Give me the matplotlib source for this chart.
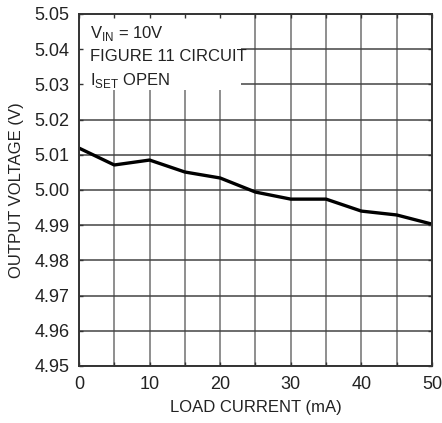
import matplotlib
matplotlib.use("Agg")
import matplotlib.pyplot as plt

plt.rcParams["font.family"] = ["Liberation Sans", "DejaVu Sans"]

load_ma = [0, 5, 10, 15, 20, 25, 30, 35, 40, 45, 50]
vout = [5.0119, 5.0071, 5.0085, 5.0051, 5.0034, 4.9994, 4.9974, 4.9974, 4.9940, 4.9929, 4.9903]

xticks = [0, 10, 20, 30, 40, 50]
yticks = [4.95, 4.96, 4.97, 4.98, 4.99, 5.00, 5.01, 5.02, 5.03, 5.04, 5.05]

pos = [0.1787, 0.1348, 0.7986, 0.8322]
fig = plt.figure(figsize=(4.42, 4.23), dpi=100)
ax = fig.add_axes(pos)

ax.set_xlim(0, 50)
ax.set_ylim(4.95, 5.05)
ax.set_xticks(xticks)
ax.set_xticks(range(0, 51, 5), minor=True)
ax.set_yticks(yticks)
ax.set_yticklabels(["%.2f" % v for v in yticks])

ax.grid(True, which="major", axis="y", color="#444444", lw=1.1, zorder=1)
ax.grid(True, which="both", axis="x", color="#707070", lw=1.1, zorder=1)

ax.tick_params(which="both", length=0, labelsize=13, labelcolor="#222222", pad=7)
for s in ax.spines.values():
    s.set_visible(False)

ax.plot(load_ma, vout, color="black", lw=2.4, solid_joinstyle="round", zorder=4)

# white label block in the top-left corner
ax.axvspan(0, 23, ymin=0.785, ymax=1.0, color="white", lw=0, zorder=2)
txt = dict(fontsize=12, color="#222222", zorder=3)
ax.text(1.5, 5.0445, r"V$_{\mathregular{IN}}$ = 10V", va="center", **txt)
ax.text(1.5, 5.0378, "FIGURE 11 CIRCUIT", va="center", **txt)
ax.text(1.5, 5.0310, r"I$_{\mathregular{SET}}$ OPEN", va="center", **txt)

ax.set_xlabel("LOAD CURRENT (mA)", fontsize=12, color="#222222", labelpad=5)
ax.set_ylabel("OUTPUT VOLTAGE (V)", fontsize=12, color="#222222", labelpad=7)

# overlay frame: inward ticks and spines drawn above the label block
top = fig.add_axes(pos, sharex=ax, sharey=ax, facecolor="none")
top.tick_params(which="both", direction="in", length=3, width=1, colors="#333333",
                top=True, right=True, labelbottom=False, labelleft=False)
for s in top.spines.values():
    s.set_color("#333333")
    s.set_linewidth(1.4)

fig.savefig("out.png", dpi=100)
